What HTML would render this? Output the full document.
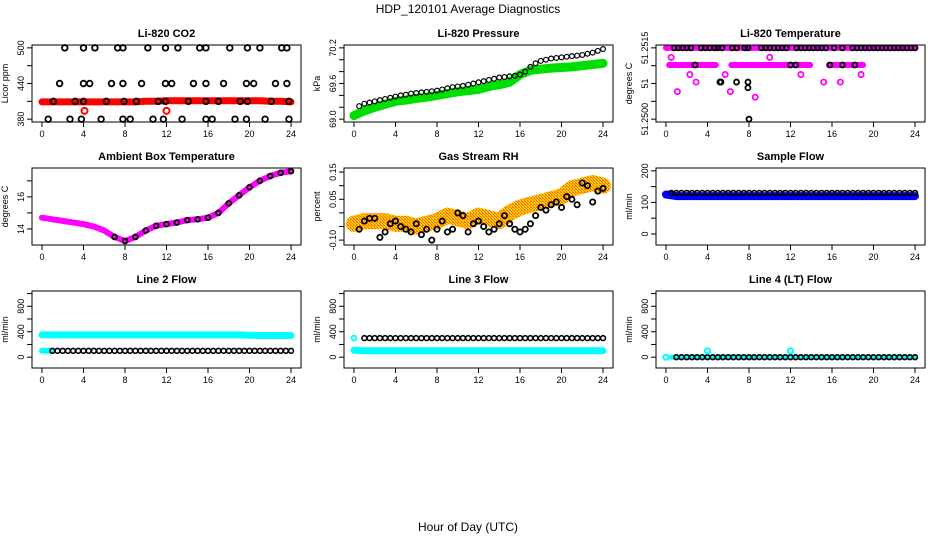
<!DOCTYPE html>
<html><head><meta charset="utf-8"><style>
html,body{margin:0;padding:0;background:#fff}
svg{display:block;font-family:"Liberation Sans",sans-serif}
</style></head><body>
<svg id="chart" width="936" height="540" viewBox="0 0 936 540">
<defs>
<pattern id="speckle" width="3" height="3" patternUnits="userSpaceOnUse">
<rect width="3" height="3" fill="#ffd400"/>
<rect x="0" y="0" width="1" height="1" fill="#ff6a00"/>
<rect x="1" y="1" width="1" height="1" fill="#ff6a00"/>
<rect x="2" y="2" width="1" height="1" fill="#ff6a00"/>
<rect x="2" y="0" width="1" height="1" fill="#ff8c00"/>
</pattern>
</defs>
<rect width="936" height="540" fill="#fff"/>
<text x="468" y="13" font-size="12" text-anchor="middle">HDP_120101  Average Diagnostics</text>
<text x="468" y="531" font-size="12" text-anchor="middle">Hour of Day (UTC)</text>
</svg>
<script>
// ---- data ----
const xTicks = [0,4,8,12,16,20,24];
const HH = [0.5,1,1.5,2,2.5,3,3.5,4,4.5,5,5.5,6,6.5,7,7.5,8,8.5,9,9.5,10,10.5,11,11.5,12,12.5,13,13.5,14,14.5,15,15.5,16,16.5,17,17.5,18,18.5,19,19.5,20,20.5,21,21.5,22,22.5,23,23.5,24];
const H25 = [0,1,2,3,4,5,6,7,8,9,10,11,12,13,14,15,16,17,18,19,20,21,22,23,24];

// CO2
const co2BlackHours = [2.2,4.0,5.1,7.3,7.8,10.2,11.9,13.1,15.2,15.8,18.1,19.8,21.0,23.1,23.6, 1.7,4.0,4.6,6.7,7.8,9.6,11.9,12.5,14.6,15.8,17.5,19.7,20.4,22.5,23.6, 1.1,3.2,4.0,6.2,7.9,9.1,11.2,11.9,14.1,15.8,17.0,19.1,19.8,22.1,23.8, 0.6,2.7,3.8,5.7,7.8,8.5,10.7,11.7,13.5,15.8,16.4,18.6,19.7,21.5,23.8];
const co2BlackValues = [500,500,500,500,500,500,500,500,500,500,500,500,500,500,500, 440,440,440,440,440,440,440,440,440,440,440,440,440,440,440, 410,410,410,410,410,410,410,410,410,410,410,410,410,410,410, 380,380,380,380,380,380,380,380,380,380,380,380,380,380,380];
const co2Red = [409,409,409,409,409,409,409,409,409,409,410,410,411,411,411,411,411,411,411,411,411,411,410,410,409];
const co2RedOutH = [4.1,12.0];
const co2RedOutV = [394,394];

// Pressure
const presGreen = [69.06,69.14,69.2,69.25,69.3,69.32,69.35,69.37,69.4,69.43,69.46,69.48,69.5,69.55,69.58,69.62,69.75,69.82,69.84,69.86,69.87,69.88,69.9,69.92,69.94];
const presBlack = [69.22,69.26,69.28,69.30,69.32,69.34,69.36,69.38,69.40,69.41,69.43,69.44,69.45,69.46,69.47,69.48,69.50,69.52,69.54,69.55,69.56,69.58,69.60,69.62,69.64,69.66,69.68,69.70,69.71,69.72,69.73,69.75,69.80,69.88,69.94,69.98,70.00,70.02,70.03,70.04,70.05,70.06,70.07,70.08,70.10,70.12,70.15,70.18];

// Li-820 temperature
const tempMagTop = [51.2515,51.2515];
const tempMagTopH = [0,24];
const tempMagMidSegH = [[0.3,4.8],[6.3,13.9],[15.7,19.0]];
const tempMid = 51.25114;
const tempBlackH = [0.8,1.2,1.6,2.0,2.4,3.4,3.8,4.2,4.7,5.0,5.4,6.4,6.8,7.6,7.9,9.2,9.6,10.0,10.4,10.8,11.2,11.6,12.6,13.0,13.4,13.8,14.2,14.6,15.0,15.4,16.2,17.0,18.0,18.4,18.8,19.2,19.6,20.0,20.4,20.8,21.2,21.6,22.0,22.4,22.8,23.2,23.6,24.0, 2.8,12.0,12.5,15.8,17.0,18.2, 5.2,5.3,6.8,7.9, 7.9, 8.0];
const tempBlackV = [51.2515,51.2515,51.2515,51.2515,51.2515,51.2515,51.2515,51.2515,51.2515,51.2515,51.2515,51.2515,51.2515,51.2515,51.2515,51.2515,51.2515,51.2515,51.2515,51.2515,51.2515,51.2515,51.2515,51.2515,51.2515,51.2515,51.2515,51.2515,51.2515,51.2515,51.2515,51.2515,51.2515,51.2515,51.2515,51.2515,51.2515,51.2515,51.2515,51.2515,51.2515,51.2515,51.2515,51.2515,51.2515,51.2515,51.2515,51.2515, 51.25114,51.25114,51.25114,51.25114,51.25114,51.25114, 51.25078,51.25078,51.25078,51.25078, 51.25066, 51.25000];
const tempMagOutH = [0.5,1.1,2.3,2.9,5.7,6.2,8.6,10.0,13.0,15.2,16.8,18.8];
const tempMagOutV = [51.25130,51.25058,51.25094,51.25078,51.25094,51.25058,51.25046,51.25130,51.25094,51.25078,51.25078,51.25094];

// Ambient box temperature
const ambMag = [14.7,14.6,14.5,14.4,14.3,14.15,13.9,13.5,13.25,13.5,13.9,14.2,14.3,14.4,14.55,14.6,14.7,15.0,15.6,16.1,16.6,17.0,17.3,17.5,17.6];

// Gas stream RH
const rhBand = [-0.04,-0.03,-0.03,-0.03,-0.04,-0.04,-0.05,-0.04,-0.03,-0.01,-0.02,-0.03,-0.01,-0.02,-0.03,0.0,0.02,0.03,0.04,0.05,0.06,0.09,0.10,0.11,0.10];
const rhBlack = [-0.06,-0.03,-0.02,-0.02,-0.09,-0.07,-0.04,-0.03,-0.05,-0.06,-0.07,-0.04,-0.08,-0.06,-0.10,-0.06,-0.03,-0.07,-0.06,0.0,-0.01,-0.07,-0.04,-0.03,-0.05,-0.07,-0.06,-0.04,-0.01,-0.04,-0.06,-0.07,-0.06,-0.04,-0.01,0.02,0.01,0.03,0.04,0.02,0.06,0.05,0.03,0.11,0.10,0.04,0.08,0.09];

// Flows
const sampleBlue = [125,120,120,120,120,120,120,120,120,120,120,120,120,120,120,120,120,120,120,120,120,120,120,120,120];
const sampleBlack = 130;
const line2Cyan = [350,350,350,350,350,350,350,350,350,350,350,350,350,350,350,350,350,350,350,350,345,340,340,340,340];
const line2Black = 100;
const line3Cyan = [110,100,100,100,100,100,100,100,100,100,100,100,100,100,100,100,100,100,100,100,100,100,100,100,100];
const line3Black = 300;
const line4Black = 0;
const line4OutH = [0,4,12];
const line4OutV = [0,100,100];

// ---- drawing ----
const svg = document.getElementById('chart');
const NS = 'http://www.w3.org/2000/svg';
function mk(tag, attrs, parent){const e=document.createElementNS(NS,tag);for(const k in attrs)e.setAttribute(k,attrs[k]);(parent||svg).appendChild(e);return e;}

function panel(c,r,title,ytitle,ylim,ticks,labels,name){
  const L=32+312*c, R=L+269, T=45+123*r, B=T+77;
  const g=mk('g',{});
  
  
  const x=h=>L+(h+0.96)*269/25.92;
  const y=v=>B-(v-ylim[0])/(ylim[1]-ylim[0])*77;
  const t=mk('text',{x:(L+R)/2,y:T-8,'font-size':11,'font-weight':'bold','text-anchor':'middle'},g);
  t.textContent=title;
  
  
  const yt=mk('text',{x:0,y:0,'font-size':9,'text-anchor':'middle',transform:`translate(${L-24},${(T+B)/2}) rotate(-90)`},g);
  yt.textContent=ytitle;
  
  
  const xa=mk('g',{},g);
  
  
  mk('line',{x1:x(0),x2:x(24),y1:B,y2:B,stroke:'#000'},xa);
  xTicks.forEach(v=>{
    mk('line',{x1:x(v),x2:x(v),y1:B,y2:B+5,stroke:'#000'},xa);
    const l=mk('text',{x:x(v),y:B+15,'font-size':9,'text-anchor':'middle'},xa);l.textContent=v;
  });
  const ya=mk('g',{},g);
  
  
  ticks.forEach((v,i)=>{
    mk('line',{x1:L-5,x2:L,y1:y(v),y2:y(v),stroke:'#000'},ya);
    if(labels[i]){const l=mk('text',{x:0,y:0,'font-size':9,'text-anchor':'middle',transform:`translate(${L-8},${y(v)}) rotate(-90)`},ya);l.textContent=labels[i];}
  });
  mk('line',{x1:L,x2:L,y1:y(ticks[0]),y2:y(ticks[ticks.length-1]),stroke:'#000'},ya);
  const plot=mk('g',{},g);
  
  
  const box=mk('rect',{x:L,y:T,width:269,height:77,fill:'none',stroke:'#000'},g);
  
  
  return {x,y,plot,L,R,T,B,name};
}
function pts(P,hs,vs,col,r,sw,nm){
  const g=mk('g',{},P.plot);
  
  
  hs.forEach((h,i)=>{const v=Array.isArray(vs)?vs[i]:vs; if(v==null)return;
    const c=mk('circle',{cx:P.x(h),cy:P.y(v),r:r||2.6,fill:'none',stroke:col,'stroke-width':sw||1.6},g);
    
    
  });
}
function band(P,hs,vs,col,w,nm,dash){
  const d=hs.map((h,i)=>(i?'L':'M')+P.x(h).toFixed(1)+','+P.y(vs[i]).toFixed(1)).join('');
  const a={d,fill:'none',stroke:col,'stroke-width':w,'stroke-linejoin':'round','stroke-linecap':'round'};
  if(dash)a['stroke-dasharray']=dash;
  const p=mk('path',a,P.plot);
  
  
}

// CO2
let P=panel(0,0,'Li-820 CO2','Licor ppm',[375.2,504.8],[380,410,440,470,500],['380','','440','','500'],'co2');
band(P,H25,co2Red,'#ff0000',7,'co2-red-band');
pts(P,co2RedOutH,co2RedOutV,'#ff0000',3,2,'co2-red-outliers');
pts(P,co2BlackHours,co2BlackValues,'#000',2.8,1.8,'co2-black-series');

// Pressure
P=panel(1,0,'Li-820 Pressure','kPa',[68.952,70.248],[69.0,69.2,69.4,69.6,69.8,70.0,70.2],['69.0','','','69.6','','','70.2'],'pressure');
band(P,H25,presGreen,'#00dd00',9,'pressure-green-band');
pts(P,HH,presBlack,'#000',2.4,1.2,'pressure-black-series');

// Temperature
P=panel(2,0,'Li-820 Temperature','degrees C',[51.24994,51.25156],[51.25,51.250375,51.25075,51.251125,51.2515],['51.2500','','51','','51.2515'],'li820-temp');
band(P,tempMagTopH,tempMagTop,'#ff00ff',6,'temp-magenta-top');
tempMagMidSegH.forEach((s,i)=>band(P,s,[tempMid,tempMid],'#ff00ff',6,'temp-magenta-mid-'+i));
pts(P,tempMagOutH,tempMagOutV,'#ff00ff',2.6,1.8,'temp-magenta-outliers');
pts(P,tempBlackH,tempBlackV,'#000',2.5,1.8,'temp-black-series');

// Ambient
P=panel(0,1,'Ambient Box Temperature','degrees C',[13.0,17.8],[14,15,16,17],['14','','16',''],'ambient-temp');
band(P,H25,ambMag,'#ff00ff',6,'ambient-magenta-line');
pts(P,H25.slice(7),ambMag.slice(7),'#000',2.4,1.8,'ambient-black-series');

// RH
P=panel(1,1,'Gas Stream RH','percent',[-0.118,0.165],[-0.1,-0.05,0,0.05,0.1,0.15],['-0.10','','','0.05','','0.15'],'rh');
band(P,H25,rhBand,'url(#speckle)',16,'rh-speckle-band');
pts(P,HH,rhBlack,'#000',2.6,1.8,'rh-black-series');

// Sample flow
P=panel(2,1,'Sample Flow','ml/min',[-35,209],[0,50,100,150,200],['0','','100','','200'],'sample-flow');
band(P,H25,sampleBlue,'#0000ff',8,'sample-blue-band');
pts(P,HH,HH.map(()=>sampleBlack),'#000',2.4,1.6,'sample-black-series');

// Line 2
P=panel(0,2,'Line 2 Flow','ml/min',[-170,1040],[0,200,400,600,800,1000],['0','','400','','800',''],'line2-flow');
band(P,H25,line2Cyan,'#00ffff',7,'line2-cyan-band');
band(P,[0,1],[100,100],'#00ffff',6,'line2-cyan-start');
pts(P,HH.slice(1),HH.slice(1).map(()=>line2Black),'#000',2.4,1.6,'line2-black-series');

// Line 3
P=panel(1,2,'Line 3 Flow','ml/min',[-170,1040],[0,200,400,600,800,1000],['0','','400','','800',''],'line3-flow');
band(P,H25,line3Cyan,'#00ffff',7,'line3-cyan-band');
pts(P,[0],[300],'#00ffff',2.4,1.8,'line3-cyan-start');
pts(P,HH.slice(1),HH.slice(1).map(()=>line3Black),'#000',2.4,1.6,'line3-black-series');

// Line 4
P=panel(2,2,'Line 4 (LT) Flow','ml/min',[-170,1040],[0,200,400,600,800,1000],['0','','400','','800',''],'line4-flow');
band(P,[0.5,24],[0,0],'#00ffff',5,'line4-cyan-band');
pts(P,HH.slice(1),HH.slice(1).map(()=>line4Black),'#000',2.4,1.6,'line4-black-series');
pts(P,line4OutH,line4OutV,'#00ffff',2.6,2,'line4-cyan-outliers');
</script>
</body></html>
